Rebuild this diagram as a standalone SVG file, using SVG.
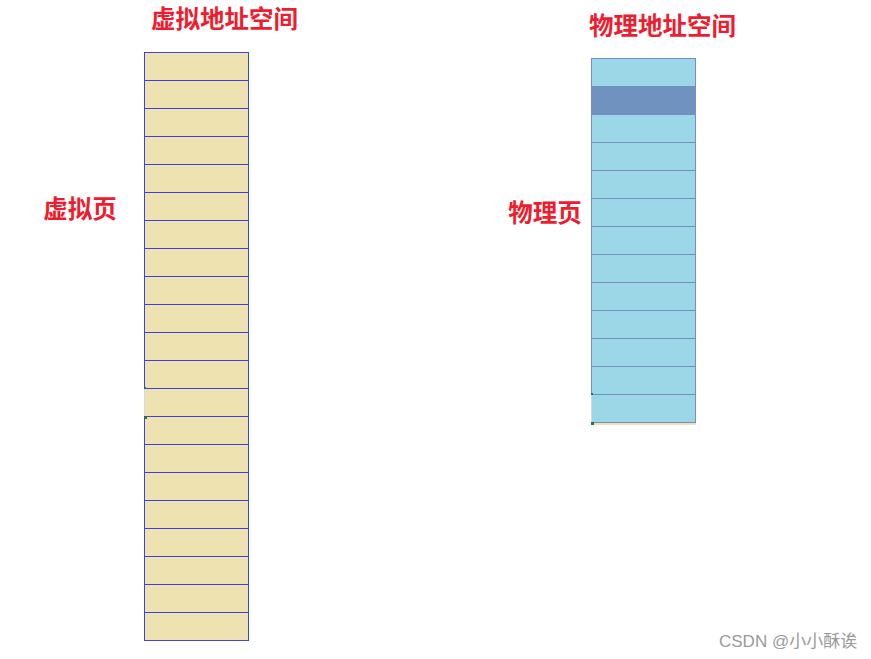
<svg xmlns="http://www.w3.org/2000/svg" width="871" height="659" viewBox="0 0 871 659">
<style>
.lbl{font-family:"Noto Sans CJK SC","Noto Sans CJK JP",sans-serif;font-size:24.5px;font-weight:bold;fill:#EE1C2E;text-anchor:middle}
.v{fill:#EEE2B0;stroke:#3C42E6;stroke-width:1}
.p{fill:#9AD8E8;stroke:#7A8CC8;stroke-width:1}
.wm{font-family:"Liberation Sans","Noto Sans CJK SC",sans-serif;font-size:17px;fill:#9A9A9A}
</style>
<rect width="871" height="659" fill="#FFFFFF"/>
<g id="virtual-title"><text class="lbl" x="224.5" y="28">虚拟地址空间</text></g>
<g id="physical-title"><text class="lbl" x="662.5" y="35">物理地址空间</text></g>
<g id="virtual-page-label"><text class="lbl" x="80" y="218">虚拟页</text></g>
<g id="physical-page-label"><text class="lbl" x="545" y="222">物理页</text></g>
<g id="virtual-space">
<rect class="v" x="144.5" y="52.5" width="104" height="588"/>
<path d="M144.5 80.5H248.5M144.5 108.5H248.5M144.5 136.5H248.5M144.5 164.5H248.5M144.5 192.5H248.5M144.5 220.5H248.5M144.5 248.5H248.5M144.5 276.5H248.5M144.5 304.5H248.5M144.5 332.5H248.5M144.5 360.5H248.5M144.5 388.5H248.5M144.5 416.5H248.5M144.5 444.5H248.5M144.5 472.5H248.5M144.5 500.5H248.5M144.5 528.5H248.5M144.5 556.5H248.5M144.5 584.5H248.5M144.5 612.5H248.5" stroke="#3C42E6" stroke-width="1" fill="none"/>
<rect x="144" y="389" width="1" height="27" fill="#D8D8D8"/>
<rect x="144" y="387" width="2" height="2" fill="#1E7A3A"/>
<rect x="144" y="416" width="3" height="3" fill="#1E7A3A"/>
</g>
<g id="physical-space">
<rect x="591" y="422" width="105" height="3" fill="#EEE2B0"/>
<rect class="p" x="591.5" y="58.5" width="104" height="364"/>
<rect x="592" y="86" width="103" height="28" fill="#7092BE"/>
<path d="M591.5 114.5H695.5M591.5 142.5H695.5M591.5 170.5H695.5M591.5 198.5H695.5M591.5 226.5H695.5M591.5 254.5H695.5M591.5 282.5H695.5M591.5 310.5H695.5M591.5 338.5H695.5M591.5 366.5H695.5M591.5 394.5H695.5" stroke="#7A8CC8" stroke-width="1" fill="none"/>
<rect x="591" y="395" width="1" height="27" fill="#D8D8D8"/>
<rect x="591" y="393" width="2" height="2" fill="#1E7A3A"/>
<rect x="591" y="422" width="3" height="3" fill="#1E7A3A"/>
</g>
<g id="connectors"></g>
<text class="wm" x="719" y="647">CSDN @小小酥诶</text>
</svg>
